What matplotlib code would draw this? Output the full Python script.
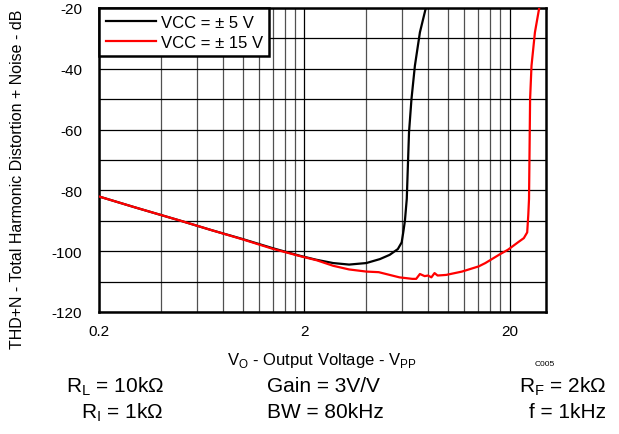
import numpy as np
import matplotlib
matplotlib.use('Agg')
import matplotlib.pyplot as plt
from matplotlib.ticker import FixedLocator, NullFormatter, FuncFormatter

plt.rcParams['font.family'] = ['Liberation Sans', 'DejaVu Sans']
plt.rcParams['mathtext.fontset'] = 'custom'
plt.rcParams['mathtext.rm'] = 'Liberation Sans'
plt.rcParams['axes.unicode_minus'] = False

# -----------------------------
# Data
# -----------------------------
vo_5v = [0.2, 0.3, 0.5, 0.7, 1.0, 1.4, 1.9, 2.28, 2.76, 3.3, 4.0, 4.66, 5.2,
         5.7, 5.95, 6.05, 6.17, 6.3, 6.46, 6.64, 6.9, 7.3, 7.8]
thd_5v = [-82, -85.6, -90, -93, -96, -99, -101.5, -102.8, -103.9, -104.4,
          -103.9, -102.6, -101.2, -99.3, -97.1, -94, -90, -82.8, -60.9,
          -50, -39, -28, -20]

vo_15v = [0.2, 0.3, 0.5, 0.7, 1.0, 1.4, 1.9, 2.3, 2.76, 3.3, 4.0, 4.6, 5.2,
          5.8, 6.7, 7.0, 7.3, 7.7, 8.0, 8.3, 8.6, 8.9, 9.8, 11.7, 14.1, 15.2,
          17.9, 19.6, 22.0, 23.4, 24.3, 24.6, 24.8, 24.9, 25.1, 25.5, 26.5,
          27.8]
thd_15v = [-82, -85.6, -90, -93, -96.1, -99.2, -101.6, -103, -104.8, -106,
           -106.7, -106.9, -107.8, -108.6, -109.1, -109.1, -107.5, -108.2,
           -108, -108.6, -107.2, -108, -107.8, -106.7, -105, -103.9, -101,
           -99.5, -97, -95.7, -93.8, -88, -82.8, -72, -50, -39, -28, -20]

series = ['VCC = ± 5 V', 'VCC = ± 15 V']
colors = ['black', '#ff0000']

x_major = [0.2, 2, 20]
x_minor = [b * k for b in (0.2, 2) for k in range(2, 10)]

# -----------------------------
# Plotting
# -----------------------------
fig = plt.figure(figsize=(6.19, 4.35), dpi=100)
ax = fig.add_axes([99 / 619, 1 - 313 / 435, 447 / 619, 304 / 435])

ax.plot(vo_5v, thd_5v, color=colors[0], lw=1.6, label=series[0], zorder=3)
ax.plot(vo_15v, thd_15v, color=colors[1], lw=1.6, label=series[1], zorder=3)

ax.set_xscale('log')
ax.set_xlim(0.2, 30)
ax.set_ylim(-120, -20)

ax.xaxis.set_major_locator(FixedLocator(x_major))
ax.xaxis.set_minor_locator(FixedLocator(x_minor))
ax.xaxis.set_major_formatter(FuncFormatter(lambda v, p: f'{v:g}'))
ax.xaxis.set_minor_formatter(NullFormatter())
ax.set_yticks(np.arange(-120, -19, 20))
ax.set_yticks(np.arange(-110, -20, 20), minor=True)

ax.grid(which='major', color='black', lw=0.9)
ax.grid(which='minor', axis='y', color='black', lw=0.9)
ax.grid(which='minor', axis='x', color='#505050', lw=0.9)
ax.set_axisbelow(True)

ax.tick_params(which='both', length=0, labelsize=11)
ax.tick_params(axis='y', pad=12)
ax.tick_params(axis='x', pad=9)
for s in ax.spines.values():
    s.set_linewidth(1.8)

fig.text(18 / 619, 1 - 179 / 435, 'THD+N - Total Harmonic Distortion + Noise - dB',
         fontsize=11.5, rotation=90, ha='center', va='center')
fig.text(322 / 619, 1 - 361 / 435,
         r'V$_\mathregular{O}$ - Output Voltage - V$_\mathregular{PP}$',
         fontsize=12, ha='center', va='center')

leg = ax.legend(loc='upper left', bbox_to_anchor=(0, 1), borderaxespad=0,
                fontsize=12, fancybox=False, edgecolor='black', framealpha=1,
                handlelength=3.0, handletextpad=0.3, borderpad=0.4,
                labelspacing=0.3)
leg.get_frame().set_linewidth(1.8)

fig.text(545 / 619, 1 - 364 / 435, 'C005', fontsize=6, ha='center', va='center')

txt = dict(fontsize=15, va='center')
fig.text(164 / 619, 1 - 387 / 435, r'R$_\mathregular{L}$ = 10kΩ', ha='right', **txt)
fig.text(164 / 619, 1 - 413 / 435, r'R$_\mathregular{I}$ = 1kΩ', ha='right', **txt)
fig.text(267 / 619, 1 - 387 / 435, 'Gain = 3V/V', ha='left', **txt)
fig.text(267 / 619, 1 - 413 / 435, 'BW = 80kHz', ha='left', **txt)
fig.text(606 / 619, 1 - 387 / 435, r'R$_\mathregular{F}$ = 2kΩ', ha='right', **txt)
fig.text(606 / 619, 1 - 413 / 435, 'f = 1kHz', ha='right', **txt)

fig.savefig('out.png', dpi=100)
